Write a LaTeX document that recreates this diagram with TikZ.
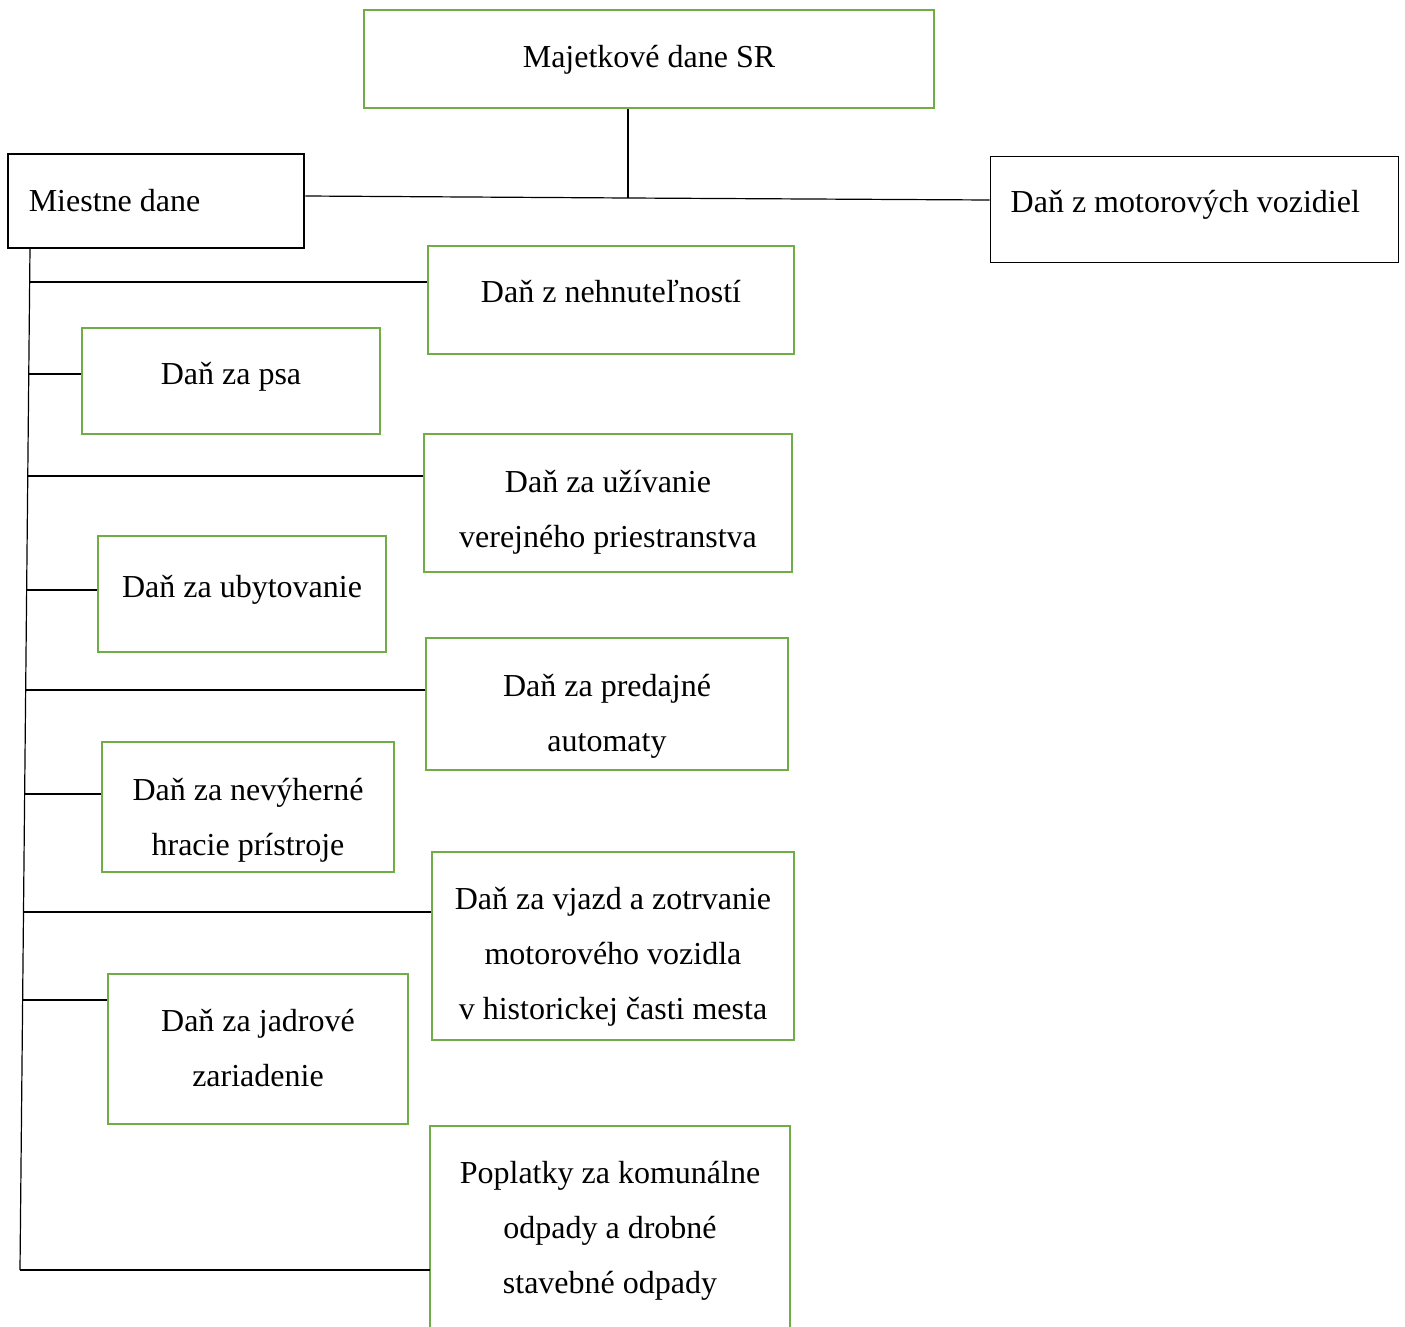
\documentclass[tikz,border=0pt]{standalone}
\usepackage{fontspec}
\setmainfont{Liberation Serif}
\definecolor{boxgreen}{RGB}{112,173,71}
\tikzset{
  gbox/.style={draw=boxgreen, line width=2.2pt, rectangle, inner sep=0pt},
  kbox/.style={draw=black, rectangle, inner sep=0pt},
  btext/.style={align=center, inner sep=0pt},
  conn/.style={draw=black, line width=1.2pt},
  every node/.style={font=\fontsize{32}{55}\selectfont}
}
\begin{document}
\begin{tikzpicture}[x=1pt,y=-1pt]
\useasboundingbox (0,0) rectangle (1405,1327);
\fill[white] (0,0) rectangle (1405,1327);

\node[gbox, minimum width=570pt, minimum height=98pt] (top) at (649,59) {};
\node[btext] (top-t) at ([yshift=-1pt]top.center) {Majetkové dane SR};
\node[kbox, line width=2.8pt, minimum width=296pt, minimum height=94pt] (miestne) at (156,201) {};
\node[btext, anchor=west] (miestne-t) at ([xshift=22pt]miestne.west) {Miestne dane};
\node[kbox, line width=1pt, minimum width=408pt, minimum height=106pt] (motor) at (1194,209) {};
\node[btext, anchor=west] (motor-t) at ([xshift=21pt,yshift=4pt]motor.west) {Daň z motorových vozidiel};

\node[gbox, minimum width=366pt, minimum height=108pt] (nehn) at (611,300) {};
\node[btext] (nehn-t) at ([yshift=8pt]nehn.center) {Daň z nehnuteľností};
\node[gbox, minimum width=298pt, minimum height=106pt] (psa) at (231,381) {};
\node[btext] (psa-t) at ([yshift=4pt]psa.center) {Daň za psa};
\node[gbox, minimum width=368pt, minimum height=138pt] (uziv) at (608,503) {};
\node[btext] (uziv-t) at ([yshift=-9pt]uziv.center) {Daň za užívanie\\verejného priestranstva};
\node[gbox, minimum width=288pt, minimum height=116pt] (ubyt) at (242,594) {};
\node[btext] (ubyt-t) at ([yshift=4pt]ubyt.center) {Daň za ubytovanie};
\node[gbox, minimum width=362pt, minimum height=132pt] (pred) at (607,704) {};
\node[btext] (pred-t) at ([yshift=-12pt]pred.center) {Daň za predajné\\automaty};
\node[gbox, minimum width=292pt, minimum height=130pt] (nevy) at (248,807) {};
\node[btext] (nevy-t) at ([yshift=-13pt]nevy.center) {Daň za nevýherné\\hracie prístroje};
\node[gbox, minimum width=362pt, minimum height=188pt] (vjazd) at (613,946) {};
\node[btext] (vjazd-t) at ([yshift=-11pt]vjazd.center) {Daň za vjazd a zotrvanie\\motorového vozidla\\v historickej časti mesta};
\node[gbox, minimum width=300pt, minimum height=150pt] (jadr) at (258,1049) {};
\node[btext] (jadr-t) at ([yshift=1pt]jadr.center) {Daň za jadrové\\zariadenie};
\node[inner sep=0pt, minimum width=360pt, minimum height=201pt] (pop) at (610,1226.5) {};
\node[btext] (pop-t) at ([yshift=-4pt]pop.center) {Poplatky za komunálne\\odpady a drobné\\stavebné odpady};
\draw[boxgreen, line width=2.2pt] (pop.south west) -- (pop.north west) -- (pop.north east) -- (pop.south east);

% top connectors
\coordinate (j) at (628,198);
\draw[conn] (top.south -| j) -- (j);
\draw[conn] ([yshift=5pt]miestne.east) -- (j) -- ([yshift=9pt]motor.west);

% trunk
\coordinate (t0) at (30,248);
\coordinate (t1) at (20,1270);
\draw[conn] (t0) -- (t1);

\coordinate (b1) at (30,282);
\coordinate (b2) at (29,374);
\coordinate (b3) at (28,476);
\coordinate (b4) at (27,590);
\coordinate (b5) at (26,690);
\coordinate (b6) at (25,794);
\coordinate (b7) at (23.5,912);
\coordinate (b8) at (22.6,1000);
\coordinate (b9) at (20,1270);

\draw[conn] (b1) -- (b1 -| nehn.west);
\draw[conn] (b2) -- (b2 -| psa.west);
\draw[conn] (b3) -- (b3 -| uziv.west);
\draw[conn] (b4) -- (b4 -| ubyt.west);
\draw[conn] (b5) -- (b5 -| pred.west);
\draw[conn] (b6) -- (b6 -| nevy.west);
\draw[conn] (b7) -- (b7 -| vjazd.west);
\draw[conn] (b8) -- (b8 -| jadr.west);
\draw[conn] (b9) -- (b9 -| pop.west);
\end{tikzpicture}
\end{document}
